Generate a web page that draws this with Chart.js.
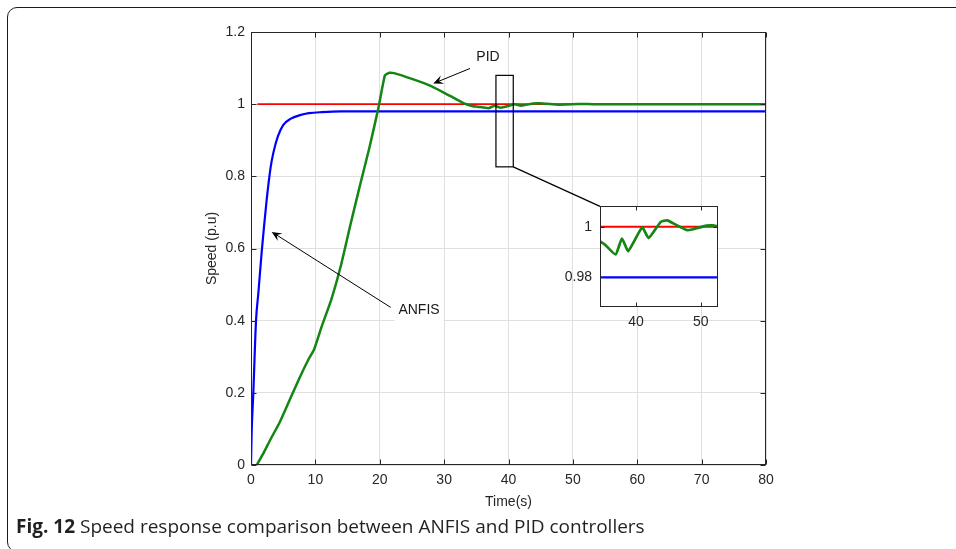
<!DOCTYPE html>
<html>
<head>
<meta charset="utf-8">
<script src="https://cdn.jsdelivr.net/npm/chart.js@4.4.1/dist/chart.umd.min.js"></script>
<style>
  html, body { margin: 0; padding: 0; background: #fff; }
  #page { position: relative; width: 956px; height: 549px; overflow: hidden; }
  #frame { position: absolute; left: 7px; top: 7px; width: 1000px; height: 545px;
           border: 1.5px solid #1b1b1b; border-radius: 10px; box-sizing: border-box; }
  #main { position: absolute; left: 0; top: 0; }
  #inset { position: absolute; left: 540px; top: 190px; }
  #caption { position: absolute; left: 16px; top: 513px; white-space: nowrap;
             font-family: 'Open Sans', sans-serif; font-size: 19px; color: #231f20; }
  #caption b { font-weight: 700; }
</style>
</head>
<body>
<div id="page">
  <div id="frame"></div>
  <canvas id="main" width="956" height="549"></canvas>
  <canvas id="inset" width="190" height="150"></canvas>
  <div id="caption"><b>Fig. 12</b> Speed response comparison between ANFIS and PID controllers</div>
</div>
<script>
// ---- data ----
const anfisTime  = [0, 0.1, 0.36, 0.78, 1.14, 1.66, 2.02, 2.43, 3.06, 3.47, 4.2, 5.0, 6.2, 7.6, 9, 11, 14, 80];
const anfisSpeed = [0, 0.09, 0.2, 0.40, 0.476, 0.59, 0.66, 0.734, 0.826, 0.865, 0.912, 0.942, 0.960, 0.9695, 0.975, 0.978, 0.98, 0.98];

const pidTime  = [0.9, 2, 3, 4.5, 6, 7.5, 9, 9.8, 11, 12.5, 14, 15.5, 17, 18.4, 19.8, 20.8, 21.5, 22.2, 25, 28, 31, 33,
                  34.46, 35.2, 36.87, 37.84, 38.82, 40.97, 41.95, 43.84, 44.82, 46, 47.8, 48.8, 50.9, 51.9, 53, 60, 70, 80];
const pidSpeed = [0, 0.035, 0.07, 0.12, 0.18, 0.24, 0.295, 0.32, 0.385, 0.46, 0.555, 0.67, 0.78, 0.88, 0.99, 1.08, 1.087, 1.086, 1.07, 1.05, 1.022, 1.003,
                  0.9943, 0.993, 0.989, 0.9953, 0.9904, 0.9997, 0.9955, 1.0019, 1.0025, 1.001, 0.9987, 0.999, 1.0004, 1.0005, 1.0, 1.0, 1.0, 1.0];

const refTime  = [1, 80];
const refSpeed = [1, 1];

const xTicksInset = [40, 50];
const yTicksInset = [0.98, 1];

// annotation anchors (data units of the main axes)
const zoomBox   = { x0: 38.05, x1: 40.74, y0: 0.8263, y1: 1.0798 };
const pidNote   = { text: 'PID',   tx: 36.82, ty: 1.1316, from: [34.02, 1.0989], to: [28.32, 1.0573] };
const anfisNote = { text: 'ANFIS', tx: 26.1,  ty: 0.4285, from: [21.7, 0.4368],  to: [3.22, 0.646] };

const axisColor = '#262626';
const gridColor = '#dfdfdf';
const axisFont = { family: "'Liberation Sans', Arial, sans-serif", size: 14 };

const pts = (xs, ys) => xs.map((x, i) => ({ x, y: ys[i] }));
const trimNum = v => String(+Number(v).toFixed(2));

function makeSets(w) {
  return [
    { label: 'PID', data: pts(pidTime, pidSpeed), borderColor: '#138613', borderWidth: w + 0.3,
      tension: 0.15, order: 0 },
    { label: 'ANFIS', data: pts(anfisTime, anfisSpeed), borderColor: '#0000ff', borderWidth: w,
      cubicInterpolationMode: 'monotone', order: 1 },
    { label: 'Reference', data: pts(refTime, refSpeed), borderColor: '#ff0000', borderWidth: w - 0.4, order: 2 }
  ];
}

// axes box with inward ticks (matlab style)
const boxPlugin = {
  id: 'box',
  beforeDatasetsDraw(chart, args, opts) {
    if (!opts.fill) return;
    const { ctx, chartArea: a } = chart;
    ctx.save();
    ctx.fillStyle = '#fff';
    ctx.fillRect(a.left, a.top, a.width, a.height);
    ctx.restore();
  },
  afterDatasetsDraw(chart, args, opts) {
    const { ctx, chartArea: a, scales: { x, y } } = chart;
    const L = Math.round(a.left) + 0.5, R = Math.round(a.right) - 0.5;
    const T = Math.round(a.top) + 0.5, B = Math.round(a.bottom) - 0.5;
    const len = opts.len || 5;
    ctx.save();
    ctx.strokeStyle = axisColor;
    ctx.lineWidth = 1;
    ctx.beginPath();
    x.ticks.forEach(t => {
      const px = Math.round(x.getPixelForValue(t.value)) + 0.5;
      ctx.moveTo(px, B); ctx.lineTo(px, B - len);
      ctx.moveTo(px, T); ctx.lineTo(px, T + len);
    });
    y.ticks.forEach(t => {
      const py = Math.round(y.getPixelForValue(t.value)) + 0.5;
      ctx.moveTo(L, py); ctx.lineTo(L + len, py);
      ctx.moveTo(R, py); ctx.lineTo(R - len, py);
    });
    ctx.stroke();
    ctx.strokeRect(L, T, R - L, B - T);
    ctx.restore();
  }
};

function arrow(ctx, x1, y1, x2, y2) {
  const ang = Math.atan2(y2 - y1, x2 - x1);
  const c = Math.cos(ang), s = Math.sin(ang);
  const hl = 10, hw = 4.5;
  ctx.beginPath();
  ctx.moveTo(x1, y1);
  ctx.lineTo(x2 - 6 * c, y2 - 6 * s);
  ctx.stroke();
  ctx.beginPath();
  ctx.moveTo(x2, y2);
  ctx.lineTo(x2 - hl * c - hw * s, y2 - hl * s + hw * c);
  ctx.lineTo(x2 - 0.6 * hl * c, y2 - 0.6 * hl * s);
  ctx.lineTo(x2 - hl * c + hw * s, y2 - hl * s - hw * c);
  ctx.closePath();
  ctx.fill();
}

let insetChart;

const notesPlugin = {
  id: 'notes',
  afterDraw(chart) {
    const { ctx, scales: { x, y } } = chart;
    ctx.save();
    ctx.strokeStyle = '#000';
    ctx.fillStyle = '#000';

    // zoom rectangle + connector to the inset corner
    const rx0 = x.getPixelForValue(zoomBox.x0), rx1 = x.getPixelForValue(zoomBox.x1);
    const ry0 = y.getPixelForValue(zoomBox.y1), ry1 = y.getPixelForValue(zoomBox.y0);
    ctx.lineWidth = 1.2;
    ctx.strokeRect(rx0, ry0, rx1 - rx0, ry1 - ry0);
    if (insetChart) {
      const cv = insetChart.canvas;
      const ix = cv.offsetLeft + insetChart.chartArea.left;
      const iy = cv.offsetTop + insetChart.chartArea.top;
      ctx.beginPath();
      ctx.moveTo(rx1, ry1);
      ctx.lineTo(ix, iy);
      ctx.stroke();
    }

    ctx.lineWidth = 1;
    [pidNote, anfisNote].forEach(n => {
      arrow(ctx, x.getPixelForValue(n.from[0]), y.getPixelForValue(n.from[1]),
                 x.getPixelForValue(n.to[0]), y.getPixelForValue(n.to[1]));
      ctx.font = "14px 'Liberation Sans', Arial, sans-serif";
      const tx = x.getPixelForValue(n.tx), ty = y.getPixelForValue(n.ty);
      const w = ctx.measureText(n.text).width;
      ctx.fillStyle = '#fff';
      ctx.fillRect(tx - w / 2 - 4, ty - 11, w + 8, 22);
      ctx.fillStyle = '#1a1a1a';
      ctx.textAlign = 'center';
      ctx.textBaseline = 'middle';
      ctx.fillText(n.text, tx, ty);
      ctx.fillStyle = '#000';
    });
    ctx.restore();
  }
};

// ---- inset (zoomed view) ----
insetChart = new Chart(document.getElementById('inset'), {
  type: 'line',
  data: { datasets: makeSets(2.4) },
  options: {
    responsive: false,
    animation: false,
    layout: { padding: { left: 0, top: 13, right: 12, bottom: 0 } },
    elements: { point: { radius: 0 } },
    plugins: { legend: { display: false }, tooltip: { enabled: false }, box: { fill: true, len: 4 } },
    scales: {
      x: {
        type: 'linear', min: 34.46, max: 52.66,
        afterBuildTicks: s => { s.ticks = xTicksInset.map(v => ({ value: v })); },
        afterFit: s => { s.height = 33; },
        ticks: { color: axisColor, font: axisFont, padding: 7, maxRotation: 0, callback: trimNum },
        grid: { display: false, drawTicks: false },
        border: { display: false }
      },
      y: {
        type: 'linear', min: 0.9683, max: 1.008,
        afterBuildTicks: s => { s.ticks = yTicksInset.map(v => ({ value: v })); },
        afterFit: s => { s.width = 60; },
        ticks: { color: axisColor, font: axisFont, padding: 8, callback: trimNum },
        grid: { display: false, drawTicks: false },
        border: { display: false }
      }
    }
  },
  plugins: [boxPlugin]
});

// ---- main chart ----
new Chart(document.getElementById('main'), {
  type: 'line',
  data: { datasets: makeSets(2.2) },
  options: {
    responsive: false,
    animation: false,
    layout: { padding: { left: 0, top: 32, right: 190, bottom: 0 } },
    elements: { point: { radius: 0 } },
    plugins: { legend: { display: false }, tooltip: { enabled: false }, box: { fill: false, len: 5 } },
    scales: {
      x: {
        type: 'linear', min: 0, max: 80,
        afterFit: s => { s.height = 84; },
        ticks: { stepSize: 10, color: axisColor, font: axisFont, padding: 7, maxRotation: 0, callback: trimNum },
        grid: { color: gridColor, drawTicks: false },
        border: { display: false },
        title: { display: true, text: 'Time(s)', color: axisColor, font: axisFont, padding: { top: 0, bottom: 38.6 } }
      },
      y: {
        type: 'linear', min: 0, max: 1.2,
        afterFit: s => { s.width = 251; },
        ticks: { stepSize: 0.2, color: axisColor, font: axisFont, padding: 6, callback: trimNum },
        grid: { color: gridColor, drawTicks: false },
        border: { display: false },
        title: { display: true, text: 'Speed (p.u)', color: axisColor, font: axisFont, padding: { top: 203.6, bottom: 0 } }
      }
    }
  },
  plugins: [boxPlugin, notesPlugin]
});
</script>
</body>
</html>
